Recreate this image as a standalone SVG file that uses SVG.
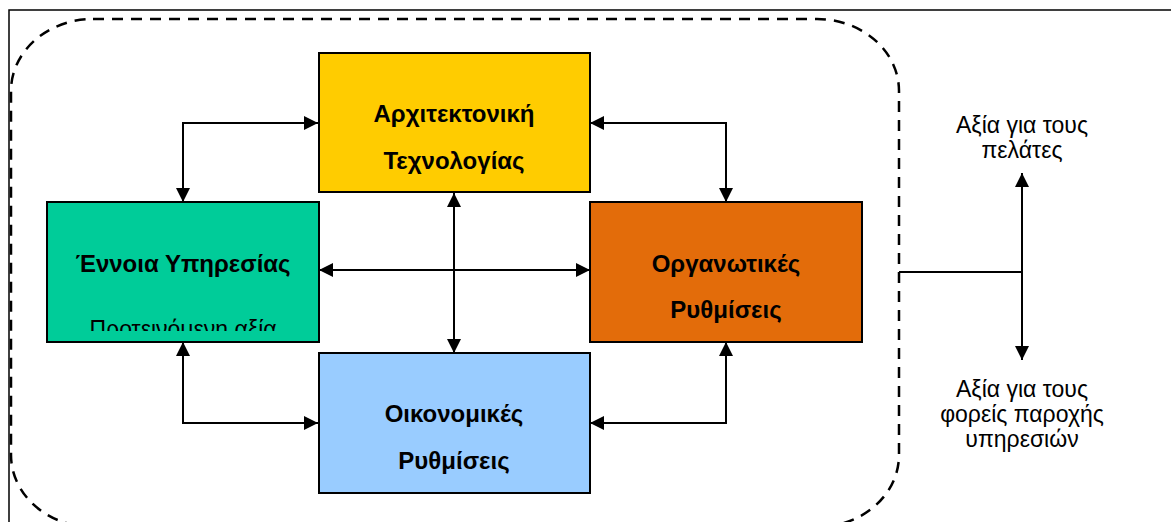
<svg xmlns="http://www.w3.org/2000/svg" width="1171" height="522" viewBox="0 0 1171 522">
  <style>
    .box { stroke: #000; stroke-width: 2; }
    .lbl { font-family: "Liberation Sans", Arial, sans-serif; font-size: 24px; font-weight: bold; fill: #000; text-anchor: middle; }
    .txt { font-family: "Liberation Sans", Arial, sans-serif; font-size: 23px; fill: #000; text-anchor: middle; }
    .conn { fill: none; stroke: #000; stroke-width: 2; }
  </style>
  <defs>
    <marker id="arrow" viewBox="0 0 10 10" refX="10" refY="5" markerWidth="7.5" markerHeight="7" orient="auto-start-reverse" markerUnits="strokeWidth">
      <path d="M0,0 L10,5 L0,10 z" fill="#000"/>
    </marker>
    <clipPath id="clipGreen">
      <rect x="47" y="202" width="272" height="129"/>
    </clipPath>
  </defs>

  <rect x="0" y="0" width="1171" height="522" fill="#fff"/>

  <!-- outer frame -->
  <rect x="9" y="10" width="1200" height="600" fill="none" stroke="#000" stroke-width="1.5"/>

  <!-- dashed boundary -->
  <rect x="11" y="19" width="888" height="508" rx="82" ry="72" fill="none" stroke="#000" stroke-width="2.5" stroke-dasharray="11 8"/>

  <g id="connectors">
    <path class="conn" d="M183,202 V123 H318" marker-start="url(#arrow)" marker-end="url(#arrow)"/>
    <path class="conn" d="M590,123 H726 V202" marker-start="url(#arrow)" marker-end="url(#arrow)"/>
    <path class="conn" d="M183,342 V423 H318" marker-start="url(#arrow)" marker-end="url(#arrow)"/>
    <path class="conn" d="M590,423 H726 V342" marker-start="url(#arrow)" marker-end="url(#arrow)"/>
    <path class="conn" d="M454,193 V353" marker-start="url(#arrow)" marker-end="url(#arrow)"/>
    <path class="conn" d="M319,270 H590" marker-start="url(#arrow)" marker-end="url(#arrow)"/>
    <path class="conn" d="M899,272 H1022"/>
    <path class="conn" d="M1022,173 V360" marker-start="url(#arrow)" marker-end="url(#arrow)"/>
  </g>

  <g id="node-architecture">
    <rect class="box" x="319" y="53" width="271" height="139" fill="#FFCC00"/>
    <text class="lbl" x="454" y="122">Αρχιτεκτονική</text>
    <text class="lbl" x="454" y="169">Τεχνολογίας</text>
  </g>

  <g id="node-service">
    <rect class="box" x="47" y="202" width="272" height="140" fill="#00CC99"/>
    <text class="lbl" x="183" y="272">Έννοια Υπηρεσίας</text>
    <text class="txt" x="183" y="337" clip-path="url(#clipGreen)">Προτεινόμενη αξία</text>
  </g>

  <g id="node-organisation">
    <rect class="box" x="590" y="202" width="272" height="140" fill="#E36C0A"/>
    <text class="lbl" x="726" y="272">Οργανωτικές</text>
    <text class="lbl" x="726" y="318">Ρυθμίσεις</text>
  </g>

  <g id="node-finance">
    <rect class="box" x="319" y="353" width="271" height="140" fill="#99CCFF"/>
    <text class="lbl" x="454" y="422">Οικονομικές</text>
    <text class="lbl" x="454" y="469">Ρυθμίσεις</text>
  </g>

  <g id="value-customers">
    <text class="txt" x="1022" y="133">Αξία για τους</text>
    <text class="txt" x="1022" y="158">πελάτες</text>
  </g>

  <g id="value-providers">
    <text class="txt" x="1022" y="397">Αξία για τους</text>
    <text class="txt" x="1022" y="422">φορείς παροχής</text>
    <text class="txt" x="1022" y="447">υπηρεσιών</text>
  </g>
</svg>
